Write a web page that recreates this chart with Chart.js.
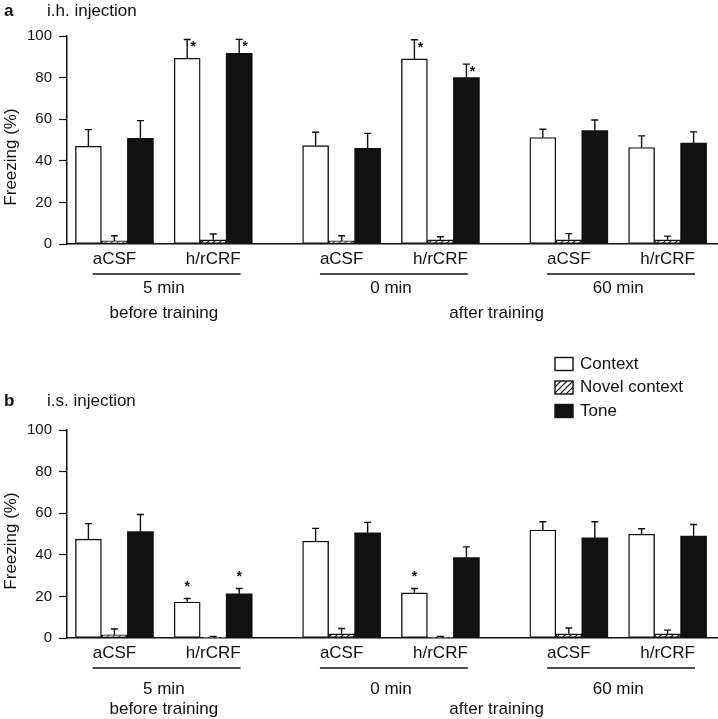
<!DOCTYPE html>
<html>
<head>
<meta charset="utf-8">
<script src="https://cdn.jsdelivr.net/npm/chart.js@4.4.1/dist/chart.umd.min.js"></script>
<style>
  body { margin: 0; background: #fff; }
  #wrap { position: relative; width: 718px; height: 719px; }
  canvas { position: absolute; left: 0; }
</style>
</head>
<body>
<div id="wrap">
  <canvas id="chartA" width="718" height="330" style="top:0"></canvas>
  <canvas id="chartB" width="718" height="389" style="top:330px"></canvas>
</div>
<script>
// Categories
const groupLabels = ["aCSF", "h/rCRF", "aCSF", "h/rCRF", "aCSF", "h/rCRF"];
const blockLabels = ["5 min", "0 min", "60 min"];
const timingLabels = ["before training", "after training"];
const seriesNames = ["Context", "Novel context", "Tone"];

// Panel a: i.h. injection (mean and SEM, % freezing)
const ihContext = [47, 89.3, 47.3, 89, 51.2, 46.4];
const ihContextSem = [8, 9, 6.4, 9.2, 4, 5.6];
const ihNovel = [1.5, 2, 1.5, 2, 2, 2];
const ihNovelSem = [2.5, 2.8, 2.5, 1.5, 3, 1.8];
const ihTone = [50.8, 91.7, 46, 80, 54.5, 48.5];
const ihToneSem = [8.5, 6.7, 7.2, 6.5, 5.1, 5.4];
const ihContextStar = [false, true, false, true, false, false];
const ihToneStar = [false, true, false, true, false, false];

// Panel b: i.s. injection
const isContext = [47.5, 17.3, 46.6, 21.7, 51.9, 49.9];
const isContextSem = [7.5, 1.7, 6.1, 2.1, 4, 2.6];
const isNovel = [1.5, 0.5, 2, 0.5, 2, 2];
const isNovelSem = [2.8, 0.3, 2.6, 0.3, 2.8, 1.8];
const isTone = [51.2, 21.2, 50.6, 38.7, 48.2, 49];
const isToneSem = [8.2, 2.6, 5, 5.1, 7.7, 5.6];
const isContextStar = [false, true, false, true, false, false];
const isToneStar = [false, true, false, false, false, false];

const INK = "#111";
const FONT = "'Liberation Sans', Arial, sans-serif";
const BLOCK_STEP = 2.3;
const xPos = groupLabels.map((_, i) => Math.floor(i / 2) * BLOCK_STEP + (i % 2));

// diagonal hatch for the novel context bars
function makeHatch() {
    const c = document.createElement("canvas");
    c.width = 6; c.height = 6;
    const g = c.getContext("2d");
    g.fillStyle = "#fff";
    g.fillRect(0, 0, 6, 6);
    g.strokeStyle = INK;
    g.lineWidth = 1.2;
    g.beginPath();
    g.moveTo(0, 6); g.lineTo(6, 0);
    g.moveTo(-3, 3); g.lineTo(3, -3);
    g.moveTo(3, 9); g.lineTo(9, 3);
    g.stroke();
    return g.createPattern(c, "repeat");
}
const hatch = makeHatch();
const fills = ["#fff", hatch, INK];

function buildDatasets(values, sems, stars) {
    return values.map((vals, s) => ({
        label: seriesNames[s],
        data: vals.map((v, i) => ({ x: xPos[i], y: v })),
        sem: sems[s],
        stars: stars[s],
        backgroundColor: fills[s],
        borderColor: INK,
        borderWidth: s === 2 ? 0 : 1.4,
        borderSkipped: false,
        barThickness: 26
    }));
}

const decorPlugin = {
    id: "decor",
    afterDatasetsDraw(chart, args, opts) {
        const ctx = chart.ctx;
        const y = chart.scales.y;
        ctx.save();
        ctx.strokeStyle = INK;
        ctx.fillStyle = INK;
        ctx.lineWidth = 1.4;
        chart.data.datasets.forEach((ds, di) => {
            const meta = chart.getDatasetMeta(di);
            meta.data.forEach((bar, i) => {
                const top = y.getPixelForValue(ds.data[i].y + ds.sem[i]);
                ctx.beginPath();
                ctx.moveTo(bar.x, bar.y);
                ctx.lineTo(bar.x, top);
                ctx.moveTo(bar.x - 3.5, top);
                ctx.lineTo(bar.x + 3.5, top);
                ctx.stroke();
                if (ds.stars[i]) {
                    ctx.font = "bold 14px " + FONT;
                    ctx.textAlign = "center";
                    ctx.textBaseline = "middle";
                    if (opts.starSide) ctx.fillText("*", bar.x + 6, top + 8);
                    else ctx.fillText("*", bar.x, top - 11);
                }
            });
        });
        ctx.restore();
    },
    afterDraw(chart, args, opts) {
        const ctx = chart.ctx;
        const x = chart.scales.x;
        const base = chart.chartArea.bottom;
        ctx.save();
        ctx.fillStyle = INK;
        ctx.strokeStyle = INK;
        ctx.textBaseline = "middle";

        // panel letter and title
        ctx.textAlign = "left";
        ctx.font = "bold 17px " + FONT;
        ctx.fillText(opts.letter, 4, opts.titleY);
        ctx.font = "17px " + FONT;
        ctx.fillText(opts.title, 47, opts.titleY);

        // y axis title
        ctx.save();
        ctx.translate(11, opts.yTitleY);
        ctx.rotate(-Math.PI / 2);
        ctx.textAlign = "center";
        ctx.font = "17px " + FONT;
        ctx.fillText("Freezing (%)", 0, 0);
        ctx.restore();

        // block underline + time labels
        ctx.font = "17px " + FONT;
        ctx.textAlign = "center";
        ctx.lineWidth = 1.5;
        const centers = [];
        blockLabels.forEach((lab, b) => {
            const i0 = b * 2, i1 = b * 2 + 1;
            const p0 = x.getPixelForValue(xPos[i0]);
            const p1 = x.getPixelForValue(xPos[i1]);
            const left = p0 - ctx.measureText(groupLabels[i0]).width / 2;
            const right = p1 + ctx.measureText(groupLabels[i1]).width / 2;
            ctx.beginPath();
            ctx.moveTo(left, base + 30);
            ctx.lineTo(right, base + 30);
            ctx.stroke();
            ctx.fillText(lab, (p0 + p1) / 2, base + opts.blockDy);
            centers.push((p0 + p1) / 2);
        });
        ctx.fillText(timingLabels[0], centers[0], base + opts.timingDy);
        ctx.fillText(timingLabels[1], (centers[1] + centers[2]) / 2 - 8, base + opts.timingDy);

        // legend
        if (opts.legendY !== undefined) {
            ctx.textAlign = "left";
            seriesNames.forEach((name, s) => {
                const cy = opts.legendY + s * 23.5;
                ctx.fillStyle = fills[s];
                ctx.fillRect(555, cy - 6.5, 18, 13);
                ctx.lineWidth = 1.4;
                ctx.strokeRect(555, cy - 6.5, 18, 13);
                ctx.fillStyle = INK;
                ctx.fillText(name, 580, cy);
            });
        }
        ctx.restore();
    }
};

function makeChart(id, datasets, topPad, axisHeight, decor) {
    return new Chart(document.getElementById(id), {
        type: "bar",
        data: { datasets: datasets },
        plugins: [decorPlugin],
        options: {
            responsive: false,
            animation: false,
            layout: { padding: { top: topPad, right: 1, left: 0, bottom: 0 } },
            plugins: {
                legend: { display: false },
                tooltip: { enabled: false },
                decor: decor
            },
            scales: {
                x: {
                    type: "linear",
                    min: -0.48,
                    max: 6.1,
                    offset: false,
                    grid: { display: false, drawTicks: false },
                    border: { display: true, color: INK, width: 1.5 },
                    afterBuildTicks: s => { s.ticks = xPos.map(v => ({ value: v })); },
                    afterFit: s => { s.height = axisHeight; },
                    ticks: {
                        callback: (v, i) => groupLabels[i],
                        autoSkip: false,
                        maxRotation: 0,
                        padding: 5,
                        color: INK,
                        font: { family: FONT, size: 17 }
                    }
                },
                y: {
                    min: 0,
                    max: 100,
                    grid: { drawOnChartArea: false, tickLength: 8, tickColor: INK, tickWidth: 1.2 },
                    border: { display: true, color: INK, width: 1.5 },
                    afterFit: s => { s.width = 67; },
                    ticks: {
                        stepSize: 10,
                        callback: v => (v % 20 === 0 ? v : ""),
                        padding: 7,
                        color: INK,
                        font: { family: FONT, size: 15 }
                    }
                }
            }
        }
    });
}

makeChart("chartA",
    buildDatasets([ihContext, ihNovel, ihTone], [ihContextSem, ihNovelSem, ihToneSem], [ihContextStar, [], ihToneStar]),
    36, 86,
    { letter: "a", title: "i.h. injection", titleY: 11, yTitleY: 157, blockDy: 44, timingDy: 69, starSide: true });

makeChart("chartB",
    buildDatasets([isContext, isNovel, isTone], [isContextSem, isNovelSem, isToneSem], [isContextStar, [], isToneStar]),
    100, 81,
    { letter: "b", title: "i.s. injection", titleY: 71, yTitleY: 211, blockDy: 51, timingDy: 71, starSide: false, legendY: 34 });
</script>
</body>
</html>
